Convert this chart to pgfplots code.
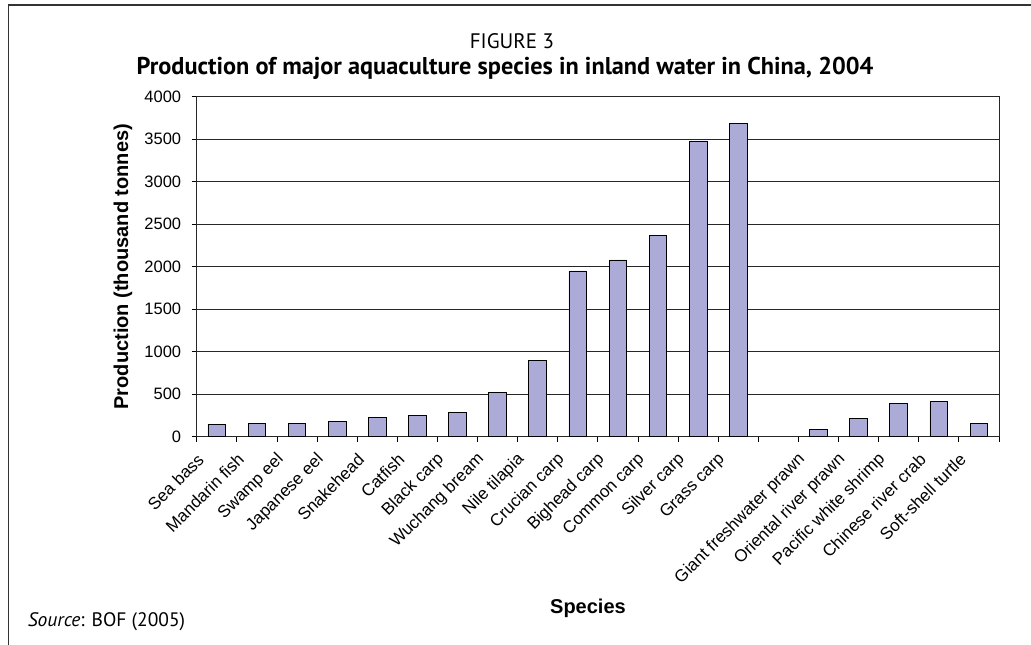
\documentclass[border=0pt]{standalone}
\usepackage{fontspec}
\setmainfont{Liberation Sans}
\newfontfamily\ptsans{PT Sans}
\usepackage{pgfplots}
\pgfplotsset{compat=1.18}
\definecolor{barfill}{RGB}{172,170,214}
\pgfplotstableread{
x y
0 145
1 160
2 160
3 180
4 230
5 250
6 290
7 520
8 900
9 1950
10 2080
11 2370
12 3480
13 3690
15 87
16 215
17 395
18 415
19 160
}\prod
\begin{document}
\begin{tikzpicture}
\useasboundingbox (0,0) rectangle (1031pt,-645pt);
\draw[line width=1.6pt, color=black!80] (8.3pt,-645pt) -- (8.3pt,-5pt) -- (1031pt,-5pt);
\node[font=\ptsans\fontsize{21}{24}\selectfont, anchor=center] at (512pt,-41pt) {FIGURE 3};
\node[font=\ptsans\bfseries\fontsize{24.3}{28}\selectfont, anchor=center] at (505pt,-68pt) {Production of major aquaculture species in inland water in China, 2004};
\node[font=\ptsans\fontsize{19.5}{23}\selectfont, anchor=west, inner sep=0pt] at (27.7pt,-621.7pt) {\textit{Source}: BOF (2005)};
\begin{axis}[
  at={(196.7pt,-436.7pt)}, anchor=south west,
  scale only axis, width=802.3pt, height=340pt,
  xmin=-0.5, xmax=19.5, ymin=0, ymax=4000,
  ytick={0,500,...,4000},
  ymajorgrids, grid style={black!85, line width=0.9pt},
  axis line style={black!85, line width=0.9pt},
  tick align=outside, xtick pos=bottom, ytick pos=left,
  major tick length=5pt, minor tick length=5pt,
  tick style={black, line width=0.8pt},
  major x tick style={draw=none},
  xtick={0,...,19},
  minor xtick={-0.5,0.5,...,19.5},
  xticklabels={Sea bass, Mandarin fish, Swamp eel, Japanese eel, Snakehead, Catfish, Black carp, Wuchang bream, Nile tilapia, Crucian carp, Bighead carp, Common carp, Silver carp, Grass carp, {}, Giant freshwater prawn, Oriental river prawn, Pacific white shrimp, Chinese river crab, Soft-shell turtle},
  xticklabel style={xshift=-16pt, yshift=-15pt, rotate=45, anchor=east, font=\fontsize{17}{19}\selectfont, inner sep=0pt},
  yticklabel style={font=\fontsize{16.5}{19}\selectfont, xshift=-7pt},
  /pgf/number format/assume math mode=true,
  /pgf/number format/1000 sep={},
  scaled y ticks=false,
  every axis y label/.style={at={(axis description cs:-0.0919,0.5)}, anchor=center, rotate=90},
  every axis x label/.style={at={(axis description cs:0.4877,-0.504)}, anchor=center},
  ylabel={Production (thousand tonnes)},
  xlabel={Species},
  label style={font=\bfseries\fontsize{20}{24}\selectfont},
]
\addplot[ybar, bar width=17.7pt, fill=barfill, draw=black, line width=0.8pt] table[x=x,y=y] {\prod};
\end{axis}
\end{tikzpicture}
\end{document}
